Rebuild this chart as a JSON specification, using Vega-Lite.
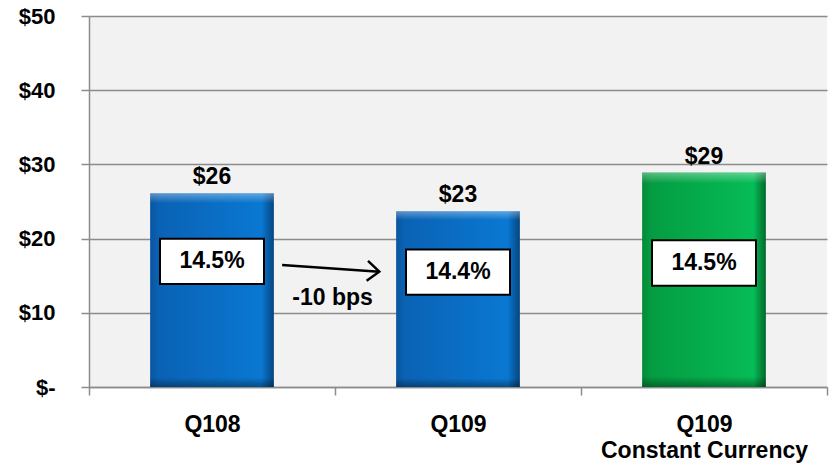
{
  "$schema": "https://vega.github.io/schema/vega-lite/v6.json",
  "width": 738,
  "height": 371,
  "autosize": {"type": "none"},
  "padding": {"left": 89, "top": 16, "right": 4, "bottom": 78},
  "background": "white",
  "config": {
    "view": {"fill": "#f2f2f2", "stroke": null},
    "font": "Liberation Sans",
    "text": {"font": "Liberation Sans", "fontSize": 23, "fontWeight": "bold", "color": "black"},
    "axis": {
      "labelFont": "Liberation Sans",
      "labelFontSize": 22,
      "labelFontWeight": "bold",
      "labelColor": "black",
      "domainColor": "#8c8c8c",
      "domainWidth": 1.5,
      "tickColor": "#8c8c8c",
      "tickWidth": 1.5,
      "tickSize": 8,
      "gridColor": "#8c8c8c",
      "gridWidth": 1.5,
      "labelLimit": 0,
      "title": null
    },
    "axisY": {"labelPadding": 26, "grid": true},
    "axisX": {"labelPadding": 18, "labelFontSize": 23, "labelAngle": 0, "tickBand": "extent", "grid": false, "labelLineHeight": 26}
  },
  "datasets": {
    "bars": [
      {"cat": "Q108", "value": 26.1, "label": "$26", "pct": "14.5%", "boxY": 16.94, "kind": "blue"},
      {"cat": "Q109", "value": 23.7, "label": "$23", "pct": "14.4%", "boxY": 15.47, "kind": "blue"},
      {"cat": "Q109|Constant Currency", "value": 28.9, "label": "$29", "pct": "14.5%", "boxY": 16.71, "kind": "green"}
    ],
    "arrow": [
      {"x1": 0.785, "x2": 1.18, "y1": 16.44, "y2": 15.54, "note": "-10 bps", "noteX": 0.99, "noteY": 12.0}
    ]
  },
  "layer": [
    {
      "data": {"name": "bars"},
      "encoding": {
        "x": {
          "field": "cat", "type": "nominal", "sort": null,
          "scale": {"paddingInner": 0, "paddingOuter": 0},
          "axis": {"labelExpr": "datum.value ? split(datum.value, '|') : ''", "title": null}
        },
        "y": {
          "field": "value", "type": "quantitative",
          "scale": {"domain": [0, 50], "nice": false},
          "axis": {"values": [0, 10, 20, 30, 40, 50], "labelExpr": "datum.value == 0 ? '$-' : '$' + datum.value", "title": null}
        }
      },
      "layer": [
        {
          "transform": [{"filter": "datum.kind == 'blue'"}],
          "mark": {
            "type": "bar", "width": {"band": 0.503},
            "color": {"gradient": "linear", "x1": 0, "x2": 1, "y1": 0, "y2": 0,
              "stops": [
                {"offset": 0, "color": "#0a55a0"},
                {"offset": 0.07, "color": "#0a62b4"},
                {"offset": 0.9, "color": "#0a78d2"},
                {"offset": 1, "color": "#05457f"}
              ]}
          }
        },
        {
          "transform": [{"filter": "datum.kind == 'green'"}],
          "mark": {
            "type": "bar", "width": {"band": 0.503},
            "color": {"gradient": "linear", "x1": 0, "x2": 1, "y1": 0, "y2": 0,
              "stops": [
                {"offset": 0, "color": "#038a38"},
                {"offset": 0.07, "color": "#049c42"},
                {"offset": 0.9, "color": "#06bc56"},
                {"offset": 1, "color": "#036a2c"}
              ]}
          }
        },
        {
          "mark": {
            "type": "bar", "width": {"band": 0.503},
            "color": {"gradient": "linear", "x1": 0, "x2": 0, "y1": 0, "y2": 1,
              "stops": [
                {"offset": 0, "color": "rgba(255,255,255,0.35)"},
                {"offset": 0.05, "color": "rgba(255,255,255,0)"},
                {"offset": 0.95, "color": "rgba(0,0,0,0)"},
                {"offset": 1, "color": "rgba(0,0,0,0.35)"}
              ]}
          }
        },
        {
          "mark": {"type": "text", "baseline": "bottom", "dy": -4},
          "encoding": {"text": {"field": "label"}}
        },
        {
          "mark": {"type": "point", "shape": "M-2.296,-1H2.296V1H-2.296Z", "size": 2052, "filled": true, "fill": "white", "stroke": "black", "strokeWidth": 2, "opacity": 1},
          "encoding": {"y": {"field": "boxY", "type": "quantitative"}}
        },
        {
          "mark": {"type": "text", "baseline": "middle"},
          "encoding": {"y": {"field": "boxY", "type": "quantitative"}, "text": {"field": "pct"}}
        }
      ]
    },
    {
      "data": {"name": "arrow"},
      "layer": [
        {
          "mark": {"type": "rule", "strokeWidth": 2.5, "color": "black"},
          "encoding": {
            "x": {"field": "x1", "type": "quantitative", "scale": {"domain": [0, 3], "nice": false, "zero": false}, "axis": null},
            "x2": {"field": "x2"},
            "y": {"field": "y1", "type": "quantitative", "scale": {"domain": [0, 50], "nice": false}, "axis": {"title": null}},
            "y2": {"field": "y2"}
          }
        },
        {
          "mark": {"type": "point", "shape": "M-1.2,-1L0,0L-1.2,1", "size": 400, "filled": false, "stroke": "black", "strokeWidth": 2.5, "angle": 4, "opacity": 1},
          "encoding": {
            "x": {"field": "x2", "type": "quantitative", "scale": {"domain": [0, 3], "nice": false, "zero": false}, "axis": null},
            "y": {"field": "y2", "type": "quantitative", "scale": {"domain": [0, 50], "nice": false}, "axis": {"title": null}}
          }
        },
        {
          "mark": {"type": "text", "baseline": "middle"},
          "encoding": {
            "x": {"field": "noteX", "type": "quantitative", "scale": {"domain": [0, 3], "nice": false, "zero": false}, "axis": null},
            "y": {"field": "noteY", "type": "quantitative", "scale": {"domain": [0, 50], "nice": false}, "axis": {"title": null}},
            "text": {"field": "note"}
          }
        }
      ]
    }
  ],
  "resolve": {"scale": {"x": "independent"}}
}
